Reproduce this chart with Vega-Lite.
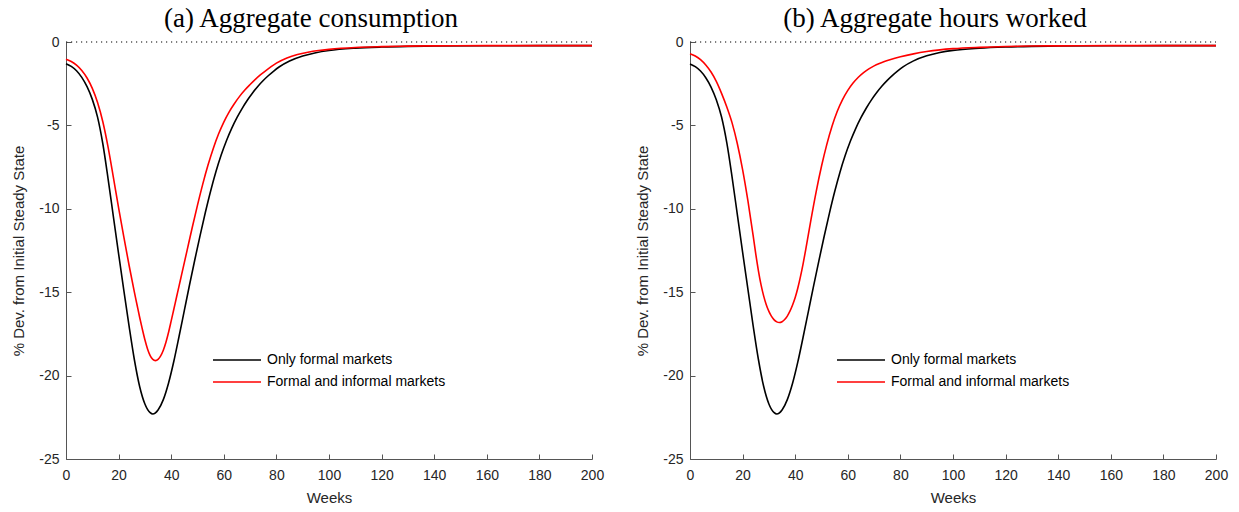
{
  "$schema": "https://vega.github.io/schema/vega-lite/v6.json",
  "background": "white",
  "padding": {"left": 11, "top": 5, "right": 5, "bottom": 5},
  "datasets": {
    "consumption": [
      {"week": 0, "series": "Only formal markets", "value": -1.30},
      {"week": 2, "series": "Only formal markets", "value": -1.46},
      {"week": 4, "series": "Only formal markets", "value": -1.72},
      {"week": 6, "series": "Only formal markets", "value": -2.12},
      {"week": 8, "series": "Only formal markets", "value": -2.68},
      {"week": 10, "series": "Only formal markets", "value": -3.44},
      {"week": 12, "series": "Only formal markets", "value": -4.50},
      {"week": 14, "series": "Only formal markets", "value": -6.10},
      {"week": 16, "series": "Only formal markets", "value": -8.20},
      {"week": 18, "series": "Only formal markets", "value": -10.45},
      {"week": 20, "series": "Only formal markets", "value": -12.70},
      {"week": 22, "series": "Only formal markets", "value": -14.90},
      {"week": 24, "series": "Only formal markets", "value": -17.05},
      {"week": 26, "series": "Only formal markets", "value": -19.05},
      {"week": 28, "series": "Only formal markets", "value": -20.65},
      {"week": 30, "series": "Only formal markets", "value": -21.70},
      {"week": 32, "series": "Only formal markets", "value": -22.22},
      {"week": 33, "series": "Only formal markets", "value": -22.30},
      {"week": 35, "series": "Only formal markets", "value": -22.06},
      {"week": 37, "series": "Only formal markets", "value": -21.44},
      {"week": 39, "series": "Only formal markets", "value": -20.44},
      {"week": 41, "series": "Only formal markets", "value": -19.14},
      {"week": 43, "series": "Only formal markets", "value": -17.64},
      {"week": 45, "series": "Only formal markets", "value": -16.09},
      {"week": 47, "series": "Only formal markets", "value": -14.54},
      {"week": 49, "series": "Only formal markets", "value": -13.04},
      {"week": 51, "series": "Only formal markets", "value": -11.59},
      {"week": 53, "series": "Only formal markets", "value": -10.21},
      {"week": 55, "series": "Only formal markets", "value": -8.93},
      {"week": 57, "series": "Only formal markets", "value": -7.78},
      {"week": 59, "series": "Only formal markets", "value": -6.78},
      {"week": 61, "series": "Only formal markets", "value": -5.92},
      {"week": 63, "series": "Only formal markets", "value": -5.18},
      {"week": 65, "series": "Only formal markets", "value": -4.54},
      {"week": 67, "series": "Only formal markets", "value": -3.98},
      {"week": 69, "series": "Only formal markets", "value": -3.48},
      {"week": 71, "series": "Only formal markets", "value": -3.04},
      {"week": 73, "series": "Only formal markets", "value": -2.65},
      {"week": 75, "series": "Only formal markets", "value": -2.31},
      {"week": 77, "series": "Only formal markets", "value": -2.01},
      {"week": 79, "series": "Only formal markets", "value": -1.74},
      {"week": 81, "series": "Only formal markets", "value": -1.50},
      {"week": 85, "series": "Only formal markets", "value": -1.14},
      {"week": 90, "series": "Only formal markets", "value": -0.84},
      {"week": 95, "series": "Only formal markets", "value": -0.64},
      {"week": 100, "series": "Only formal markets", "value": -0.51},
      {"week": 110, "series": "Only formal markets", "value": -0.37},
      {"week": 120, "series": "Only formal markets", "value": -0.30},
      {"week": 130, "series": "Only formal markets", "value": -0.26},
      {"week": 140, "series": "Only formal markets", "value": -0.24},
      {"week": 160, "series": "Only formal markets", "value": -0.225},
      {"week": 180, "series": "Only formal markets", "value": -0.22},
      {"week": 200, "series": "Only formal markets", "value": -0.22},
      {"week": 0, "series": "Formal and informal markets", "value": -1.03},
      {"week": 2, "series": "Formal and informal markets", "value": -1.17},
      {"week": 4, "series": "Formal and informal markets", "value": -1.39},
      {"week": 6, "series": "Formal and informal markets", "value": -1.71},
      {"week": 8, "series": "Formal and informal markets", "value": -2.16},
      {"week": 10, "series": "Formal and informal markets", "value": -2.78},
      {"week": 12, "series": "Formal and informal markets", "value": -3.63},
      {"week": 14, "series": "Formal and informal markets", "value": -4.78},
      {"week": 16, "series": "Formal and informal markets", "value": -6.30},
      {"week": 18, "series": "Formal and informal markets", "value": -8.10},
      {"week": 20, "series": "Formal and informal markets", "value": -9.95},
      {"week": 22, "series": "Formal and informal markets", "value": -11.70},
      {"week": 24, "series": "Formal and informal markets", "value": -13.40},
      {"week": 26, "series": "Formal and informal markets", "value": -15.00},
      {"week": 27, "series": "Formal and informal markets", "value": -15.75},
      {"week": 28, "series": "Formal and informal markets", "value": -16.50},
      {"week": 29, "series": "Formal and informal markets", "value": -17.20},
      {"week": 30, "series": "Formal and informal markets", "value": -17.85},
      {"week": 31, "series": "Formal and informal markets", "value": -18.40},
      {"week": 32, "series": "Formal and informal markets", "value": -18.80},
      {"week": 33, "series": "Formal and informal markets", "value": -19.03},
      {"week": 34, "series": "Formal and informal markets", "value": -19.10},
      {"week": 35, "series": "Formal and informal markets", "value": -19.03},
      {"week": 36, "series": "Formal and informal markets", "value": -18.82},
      {"week": 37, "series": "Formal and informal markets", "value": -18.48},
      {"week": 38, "series": "Formal and informal markets", "value": -18.00},
      {"week": 39, "series": "Formal and informal markets", "value": -17.40},
      {"week": 40, "series": "Formal and informal markets", "value": -16.72},
      {"week": 41, "series": "Formal and informal markets", "value": -16.02},
      {"week": 42, "series": "Formal and informal markets", "value": -15.32},
      {"week": 43, "series": "Formal and informal markets", "value": -14.62},
      {"week": 44, "series": "Formal and informal markets", "value": -13.92},
      {"week": 46, "series": "Formal and informal markets", "value": -12.52},
      {"week": 48, "series": "Formal and informal markets", "value": -11.12},
      {"week": 50, "series": "Formal and informal markets", "value": -9.78},
      {"week": 52, "series": "Formal and informal markets", "value": -8.52},
      {"week": 54, "series": "Formal and informal markets", "value": -7.38},
      {"week": 56, "series": "Formal and informal markets", "value": -6.38},
      {"week": 58, "series": "Formal and informal markets", "value": -5.52},
      {"week": 60, "series": "Formal and informal markets", "value": -4.80},
      {"week": 62, "series": "Formal and informal markets", "value": -4.20},
      {"week": 64, "series": "Formal and informal markets", "value": -3.70},
      {"week": 66, "series": "Formal and informal markets", "value": -3.26},
      {"week": 68, "series": "Formal and informal markets", "value": -2.88},
      {"week": 70, "series": "Formal and informal markets", "value": -2.55},
      {"week": 72, "series": "Formal and informal markets", "value": -2.24},
      {"week": 74, "series": "Formal and informal markets", "value": -1.96},
      {"week": 76, "series": "Formal and informal markets", "value": -1.71},
      {"week": 78, "series": "Formal and informal markets", "value": -1.48},
      {"week": 80, "series": "Formal and informal markets", "value": -1.27},
      {"week": 84, "series": "Formal and informal markets", "value": -0.96},
      {"week": 88, "series": "Formal and informal markets", "value": -0.75},
      {"week": 92, "series": "Formal and informal markets", "value": -0.61},
      {"week": 96, "series": "Formal and informal markets", "value": -0.51},
      {"week": 100, "series": "Formal and informal markets", "value": -0.44},
      {"week": 110, "series": "Formal and informal markets", "value": -0.33},
      {"week": 120, "series": "Formal and informal markets", "value": -0.28},
      {"week": 130, "series": "Formal and informal markets", "value": -0.25},
      {"week": 140, "series": "Formal and informal markets", "value": -0.23},
      {"week": 160, "series": "Formal and informal markets", "value": -0.22},
      {"week": 200, "series": "Formal and informal markets", "value": -0.22}
    ],
    "hours": [
      {"week": 0, "series": "Only formal markets", "value": -1.32},
      {"week": 2, "series": "Only formal markets", "value": -1.48},
      {"week": 4, "series": "Only formal markets", "value": -1.74},
      {"week": 6, "series": "Only formal markets", "value": -2.14},
      {"week": 8, "series": "Only formal markets", "value": -2.70},
      {"week": 10, "series": "Only formal markets", "value": -3.46},
      {"week": 12, "series": "Only formal markets", "value": -4.50},
      {"week": 14, "series": "Only formal markets", "value": -6.05},
      {"week": 16, "series": "Only formal markets", "value": -8.10},
      {"week": 18, "series": "Only formal markets", "value": -10.35},
      {"week": 20, "series": "Only formal markets", "value": -12.60},
      {"week": 22, "series": "Only formal markets", "value": -14.80},
      {"week": 24, "series": "Only formal markets", "value": -17.00},
      {"week": 26, "series": "Only formal markets", "value": -19.02},
      {"week": 28, "series": "Only formal markets", "value": -20.64},
      {"week": 30, "series": "Only formal markets", "value": -21.70},
      {"week": 32, "series": "Only formal markets", "value": -22.22},
      {"week": 33, "series": "Only formal markets", "value": -22.30},
      {"week": 35, "series": "Only formal markets", "value": -22.06},
      {"week": 37, "series": "Only formal markets", "value": -21.44},
      {"week": 39, "series": "Only formal markets", "value": -20.46},
      {"week": 41, "series": "Only formal markets", "value": -19.18},
      {"week": 43, "series": "Only formal markets", "value": -17.70},
      {"week": 45, "series": "Only formal markets", "value": -16.16},
      {"week": 47, "series": "Only formal markets", "value": -14.62},
      {"week": 49, "series": "Only formal markets", "value": -13.12},
      {"week": 51, "series": "Only formal markets", "value": -11.66},
      {"week": 53, "series": "Only formal markets", "value": -10.27},
      {"week": 55, "series": "Only formal markets", "value": -8.98},
      {"week": 57, "series": "Only formal markets", "value": -7.82},
      {"week": 59, "series": "Only formal markets", "value": -6.81},
      {"week": 61, "series": "Only formal markets", "value": -5.94},
      {"week": 63, "series": "Only formal markets", "value": -5.19},
      {"week": 65, "series": "Only formal markets", "value": -4.54},
      {"week": 67, "series": "Only formal markets", "value": -3.97},
      {"week": 69, "series": "Only formal markets", "value": -3.47},
      {"week": 71, "series": "Only formal markets", "value": -3.03},
      {"week": 73, "series": "Only formal markets", "value": -2.64},
      {"week": 75, "series": "Only formal markets", "value": -2.30},
      {"week": 77, "series": "Only formal markets", "value": -2.00},
      {"week": 79, "series": "Only formal markets", "value": -1.73},
      {"week": 81, "series": "Only formal markets", "value": -1.49},
      {"week": 85, "series": "Only formal markets", "value": -1.13},
      {"week": 90, "series": "Only formal markets", "value": -0.83},
      {"week": 95, "series": "Only formal markets", "value": -0.63},
      {"week": 100, "series": "Only formal markets", "value": -0.50},
      {"week": 110, "series": "Only formal markets", "value": -0.37},
      {"week": 120, "series": "Only formal markets", "value": -0.30},
      {"week": 130, "series": "Only formal markets", "value": -0.26},
      {"week": 140, "series": "Only formal markets", "value": -0.24},
      {"week": 160, "series": "Only formal markets", "value": -0.225},
      {"week": 180, "series": "Only formal markets", "value": -0.22},
      {"week": 200, "series": "Only formal markets", "value": -0.22},
      {"week": 0, "series": "Formal and informal markets", "value": -0.70},
      {"week": 2, "series": "Formal and informal markets", "value": -0.84},
      {"week": 4, "series": "Formal and informal markets", "value": -1.06},
      {"week": 6, "series": "Formal and informal markets", "value": -1.38},
      {"week": 8, "series": "Formal and informal markets", "value": -1.80},
      {"week": 10, "series": "Formal and informal markets", "value": -2.36},
      {"week": 12, "series": "Formal and informal markets", "value": -3.08},
      {"week": 14, "series": "Formal and informal markets", "value": -3.90},
      {"week": 16, "series": "Formal and informal markets", "value": -4.85},
      {"week": 18, "series": "Formal and informal markets", "value": -6.10},
      {"week": 20, "series": "Formal and informal markets", "value": -7.65},
      {"week": 22, "series": "Formal and informal markets", "value": -9.50},
      {"week": 24, "series": "Formal and informal markets", "value": -11.60},
      {"week": 25, "series": "Formal and informal markets", "value": -12.70},
      {"week": 26, "series": "Formal and informal markets", "value": -13.70},
      {"week": 27, "series": "Formal and informal markets", "value": -14.55},
      {"week": 28, "series": "Formal and informal markets", "value": -15.22},
      {"week": 29, "series": "Formal and informal markets", "value": -15.75},
      {"week": 30, "series": "Formal and informal markets", "value": -16.15},
      {"week": 31, "series": "Formal and informal markets", "value": -16.45},
      {"week": 32, "series": "Formal and informal markets", "value": -16.66},
      {"week": 33, "series": "Formal and informal markets", "value": -16.78},
      {"week": 34, "series": "Formal and informal markets", "value": -16.82},
      {"week": 35, "series": "Formal and informal markets", "value": -16.77},
      {"week": 36, "series": "Formal and informal markets", "value": -16.64},
      {"week": 37, "series": "Formal and informal markets", "value": -16.43},
      {"week": 38, "series": "Formal and informal markets", "value": -16.14},
      {"week": 39, "series": "Formal and informal markets", "value": -15.77},
      {"week": 40, "series": "Formal and informal markets", "value": -15.32},
      {"week": 41, "series": "Formal and informal markets", "value": -14.75},
      {"week": 42, "series": "Formal and informal markets", "value": -14.07},
      {"week": 43, "series": "Formal and informal markets", "value": -13.30},
      {"week": 44, "series": "Formal and informal markets", "value": -12.45},
      {"week": 45, "series": "Formal and informal markets", "value": -11.55},
      {"week": 46, "series": "Formal and informal markets", "value": -10.65},
      {"week": 48, "series": "Formal and informal markets", "value": -8.95},
      {"week": 50, "series": "Formal and informal markets", "value": -7.45},
      {"week": 52, "series": "Formal and informal markets", "value": -6.15},
      {"week": 54, "series": "Formal and informal markets", "value": -5.05},
      {"week": 56, "series": "Formal and informal markets", "value": -4.15},
      {"week": 58, "series": "Formal and informal markets", "value": -3.45},
      {"week": 60, "series": "Formal and informal markets", "value": -2.90},
      {"week": 62, "series": "Formal and informal markets", "value": -2.46},
      {"week": 64, "series": "Formal and informal markets", "value": -2.11},
      {"week": 66, "series": "Formal and informal markets", "value": -1.83},
      {"week": 68, "series": "Formal and informal markets", "value": -1.61},
      {"week": 70, "series": "Formal and informal markets", "value": -1.43},
      {"week": 72, "series": "Formal and informal markets", "value": -1.29},
      {"week": 76, "series": "Formal and informal markets", "value": -1.07},
      {"week": 80, "series": "Formal and informal markets", "value": -0.89},
      {"week": 85, "series": "Formal and informal markets", "value": -0.71},
      {"week": 90, "series": "Formal and informal markets", "value": -0.57},
      {"week": 95, "series": "Formal and informal markets", "value": -0.47},
      {"week": 100, "series": "Formal and informal markets", "value": -0.40},
      {"week": 110, "series": "Formal and informal markets", "value": -0.32},
      {"week": 120, "series": "Formal and informal markets", "value": -0.27},
      {"week": 130, "series": "Formal and informal markets", "value": -0.24},
      {"week": 140, "series": "Formal and informal markets", "value": -0.23},
      {"week": 160, "series": "Formal and informal markets", "value": -0.22},
      {"week": 200, "series": "Formal and informal markets", "value": -0.22}
    ],
    "zero": [{"from": 0, "to": 200, "level": 0}]
  },
  "config": {
    "view": {"stroke": null},
    "axis": {
      "grid": false,
      "labelFlush": false,
      "domainColor": "#555555",
      "domainWidth": 1,
      "tickColor": "#555555",
      "tickSize": -5,
      "labelColor": "#262626",
      "labelFont": "Liberation Sans",
      "labelFontSize": 14,
      "titleColor": "#262626",
      "titleFont": "Liberation Sans",
      "titleFontSize": 15,
      "titleFontWeight": "normal"
    },
    "title": {
      "font": "Liberation Serif",
      "fontSize": 27,
      "fontWeight": "normal",
      "color": "#000000",
      "anchor": "middle",
      "dx": -18,
      "offset": 2
    },
    "legend": {
      "orient": "none",
      "title": null,
      "padding": 0,
      "symbolType": "M-4,0H4",
      "symbolSize": 144,
      "symbolStrokeWidth": 1.5,
      "labelFont": "Liberation Sans",
      "labelFontSize": 14,
      "labelColor": "#000000",
      "labelOffset": 23,
      "labelLimit": 0,
      "rowPadding": 8
    }
  },
  "hconcat": [
    {
      "title": "(a) Aggregate consumption",
      "width": 526,
      "height": 417,
      "layer": [
        {
          "data": {"name": "zero"},
          "mark": {"type": "rule", "color": "#000000", "strokeWidth": 1.2, "strokeDash": [1.2, 3.8]},
          "encoding": {
            "x": {"field": "from", "type": "quantitative", "scale": {"domain": [0, 200], "nice": false}},
            "x2": {"field": "to"},
            "y": {"field": "level", "type": "quantitative", "scale": {"domain": [-25, 0], "nice": false}}
          }
        },
        {
          "data": {"name": "consumption"},
          "mark": {"type": "line", "strokeWidth": 1.6, "interpolate": "monotone"},
          "encoding": {
            "x": {
              "field": "week", "type": "quantitative",
              "scale": {"domain": [0, 200], "nice": false},
              "axis": {"values": [0, 20, 40, 60, 80, 100, 120, 140, 160, 180, 200], "title": "Weeks", "labelPadding": 14, "titlePadding": 8}
            },
            "y": {
              "field": "value", "type": "quantitative",
              "scale": {"domain": [-25, 0], "nice": false},
              "axis": {"values": [-25, -20, -15, -10, -5, 0], "labelExpr": "'' + datum.value", "title": "% Dev. from Initial Steady State", "labelPadding": 12, "titlePadding": 12}
            },
            "color": {
              "field": "series", "type": "nominal",
              "scale": {"domain": ["Only formal markets", "Formal and informal markets"], "range": ["#000000", "#ff0000"]},
              "legend": {"legendX": 164, "legendY": 311}
            }
          }
        }
      ]
    },
    {
      "title": "(b) Aggregate hours worked",
      "width": 526,
      "height": 417,
      "layer": [
        {
          "data": {"name": "zero"},
          "mark": {"type": "rule", "color": "#000000", "strokeWidth": 1.2, "strokeDash": [1.2, 3.8]},
          "encoding": {
            "x": {"field": "from", "type": "quantitative", "scale": {"domain": [0, 200], "nice": false}},
            "x2": {"field": "to"},
            "y": {"field": "level", "type": "quantitative", "scale": {"domain": [-25, 0], "nice": false}}
          }
        },
        {
          "data": {"name": "hours"},
          "mark": {"type": "line", "strokeWidth": 1.6, "interpolate": "monotone"},
          "encoding": {
            "x": {
              "field": "week", "type": "quantitative",
              "scale": {"domain": [0, 200], "nice": false},
              "axis": {"values": [0, 20, 40, 60, 80, 100, 120, 140, 160, 180, 200], "title": "Weeks", "labelPadding": 14, "titlePadding": 8}
            },
            "y": {
              "field": "value", "type": "quantitative",
              "scale": {"domain": [-25, 0], "nice": false},
              "axis": {"values": [-25, -20, -15, -10, -5, 0], "labelExpr": "'' + datum.value", "title": "% Dev. from Initial Steady State", "labelPadding": 12, "titlePadding": 12}
            },
            "color": {
              "field": "series", "type": "nominal",
              "scale": {"domain": ["Only formal markets", "Formal and informal markets"], "range": ["#000000", "#ff0000"]},
              "legend": {"legendX": 164, "legendY": 311}
            }
          }
        }
      ]
    }
  ],
  "spacing": 98,
  "bounds": "flush",
  "resolve": {"scale": {"color": "independent"}, "legend": {"color": "independent"}}
}
